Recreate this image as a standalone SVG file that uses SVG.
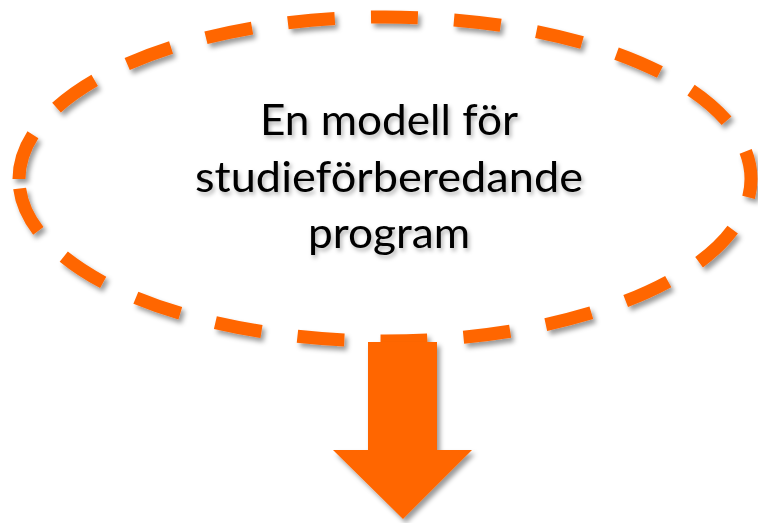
<svg xmlns="http://www.w3.org/2000/svg" width="758" height="523" viewBox="0 0 758 523">
<defs>
<filter id="sh" x="-10%" y="-10%" width="120%" height="120%">
<feDropShadow dx="3" dy="4" stdDeviation="2.5" flood-color="#000" flood-opacity="0.4"/>
</filter>
<filter id="tsh" x="-10%" y="-10%" width="120%" height="130%">
<feDropShadow dx="2" dy="3" stdDeviation="2" flood-color="#000" flood-opacity="0.3"/>
</filter>
</defs>
<style>
.lbl{font-family:Lato,"Open Sans","Liberation Sans",sans-serif;font-size:43px;fill:#000;text-anchor:middle}
</style>
<rect width="758" height="523" fill="#fff"/>
<g id="ellipse-node" filter="url(#sh)">
<path d="M 19 179 A 366 162 0 0 1 751 179 A 366 162 0 0 1 19 179" fill="none" stroke="#ff6600" stroke-width="13" stroke-dasharray="47 36.2"/>
</g>
<g id="label" filter="url(#tsh)">
<text class="lbl" x="389" y="135" textLength="258" lengthAdjust="spacingAndGlyphs">En modell för</text>
<text class="lbl" x="389" y="192" textLength="388" lengthAdjust="spacingAndGlyphs">studieförberedande</text>
<text class="lbl" x="389" y="248" textLength="162" lengthAdjust="spacingAndGlyphs">program</text>
</g>
<g id="connectors">
<g id="arrow" filter="url(#sh)">
<polygon points="368,342 437,342 437,450 472,450 403,519 333,450 368,450" fill="#ff6600"/>
</g>
</g>
</svg>
